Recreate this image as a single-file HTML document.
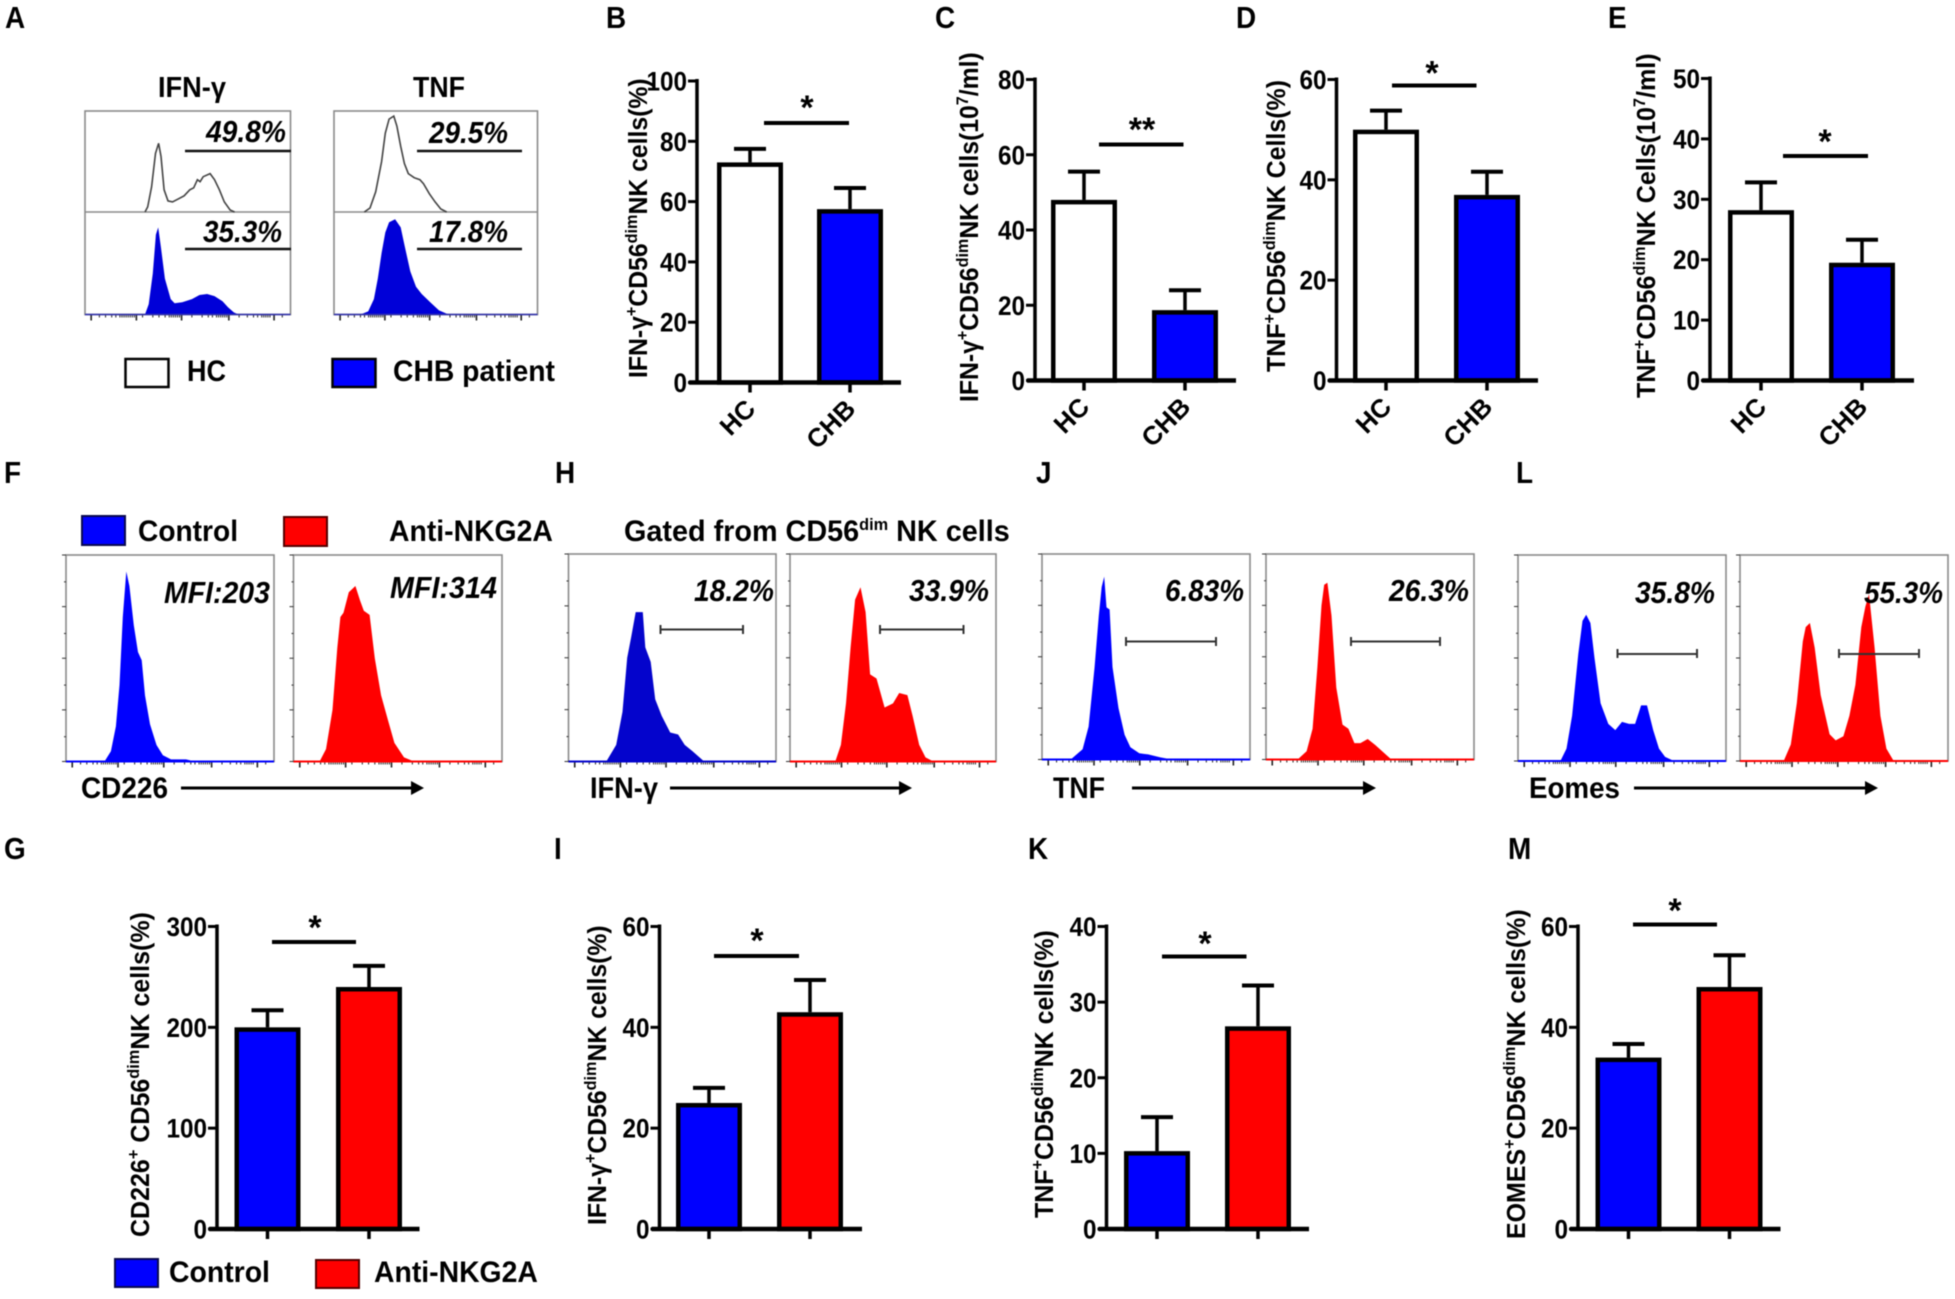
<!DOCTYPE html>
<html lang="en">
<head>
<meta charset="utf-8">
<title>NK cell function figure</title>
<style>
html,body{margin:0;padding:0;background:#fff;}
svg{display:block;filter:blur(0.45px);}
text{font-family:"Liberation Sans",sans-serif;font-weight:bold;fill:#000;}
.letter{font-size:31px;}
.head{font-size:29px;}
.pct{font-size:31px;font-style:italic;}
.leg{font-size:30px;}
.yt{font-size:26px;}
.s{font-size:17px;}
.box{fill:#fff;stroke:#8a8a8a;stroke-width:1.6;}
.gate{stroke:#111;stroke-width:2.6;fill:none;}
.br{stroke:#333;stroke-width:2;fill:none;}
.arrow{stroke:#000;stroke-width:3;fill:none;}
</style>
</head>
<body>
<svg id="figure" xmlns="http://www.w3.org/2000/svg" width="1955" height="1299" viewBox="0 0 1955 1299">
<rect width="1955" height="1299" fill="#fff"/>

<g id="letters">
<text class="letter" transform="translate(5,28) scale(.9,1)">A</text>
<text class="letter" transform="translate(606,28) scale(.9,1)">B</text>
<text class="letter" transform="translate(935,28) scale(.9,1)">C</text>
<text class="letter" transform="translate(1236,28) scale(.9,1)">D</text>
<text class="letter" transform="translate(1608,28) scale(.9,1)">E</text>
<text class="letter" transform="translate(4,483) scale(.9,1)">F</text>
<text class="letter" transform="translate(555,483) scale(.9,1)">H</text>
<text class="letter" transform="translate(1036,483) scale(.9,1)">J</text>
<text class="letter" transform="translate(1516,483) scale(.9,1)">L</text>
<text class="letter" transform="translate(4,859) scale(.9,1)">G</text>
<text class="letter" transform="translate(554,859) scale(.9,1)">I</text>
<text class="letter" transform="translate(1028,859) scale(.9,1)">K</text>
<text class="letter" transform="translate(1508,859) scale(.9,1)">M</text>
</g>

<g id="hist-layer"></g>

<g id="panel-a-text">
<text class="head" transform="translate(158,97)" data-len="68">IFN-γ</text>
<text class="head" transform="translate(413,97)" data-len="52">TNF</text>
<text class="pct" transform="translate(206,142)" data-len="80">49.8%</text>
<text class="pct" transform="translate(203,242)" data-len="79">35.3%</text>
<text class="pct" transform="translate(429,143)" data-len="79">29.5%</text>
<text class="pct" transform="translate(429,242)" data-len="79">17.8%</text>
<path class="gate" d="M185 151H291M185 249H291M417 151H522M417 249H522"/>
<rect x="125.5" y="359" width="43" height="28" fill="#fff" stroke="#000" stroke-width="2.5"/>
<text class="leg" transform="translate(187,381)" data-len="39">HC</text>
<rect x="332.5" y="359" width="43" height="28" fill="#0000ff" stroke="#000" stroke-width="2.5"/>
<text class="leg" transform="translate(393,381)" data-len="162">CHB patient</text>
</g>

<g id="middle-text">
<rect x="82" y="516" width="43" height="29" fill="#0000ff" stroke="#0a0a50" stroke-width="2"/>
<text class="leg" transform="translate(138,541)" data-len="100">Control</text>
<rect x="284" y="517" width="43" height="29" fill="#ff0000" stroke="#500" stroke-width="2"/>
<text class="leg" transform="translate(389,541)" data-len="164">Anti-NKG2A</text>
<text class="leg" transform="translate(624,541)" data-len="386">Gated from CD56<tspan class="s" dy="-11">dim</tspan><tspan dy="11"> NK cells</tspan></text>

<text class="pct" transform="translate(164,603)" data-len="106">MFI:203</text>
<text class="pct" transform="translate(390,598)" data-len="107">MFI:314</text>
<text class="pct" transform="translate(694,601)" data-len="80">18.2%</text>
<text class="pct" transform="translate(909,601)" data-len="80">33.9%</text>
<text class="pct" transform="translate(1165,601)" data-len="79">6.83%</text>
<text class="pct" transform="translate(1389,601)" data-len="80">26.3%</text>
<text class="pct" transform="translate(1635,603)" data-len="80">35.8%</text>
<text class="pct" transform="translate(1864,603)" data-len="79">55.3%</text>

<path class="br" d="M660.5 625V634M660.5 629.5H743M743 625V634"/>
<path class="br" d="M880 625V634M880 629.5H963.5M963.5 625V634"/>
<path class="br" d="M1126 637V646M1126 641.5H1216M1216 637V646"/>
<path class="br" d="M1351 637V646M1351 641.5H1440M1440 637V646"/>
<path class="br" d="M1617.5 649V658M1617.5 654H1697M1697 649V658"/>
<path class="br" d="M1839 649V658M1839 654H1919M1919 649V658"/>

<text class="leg" transform="translate(81,798)" data-len="87">CD226</text>
<path class="arrow" d="M181 788H414"/><path d="M411 781L424 788L411 795Z"/>
<text class="leg" transform="translate(590,798)" data-len="68">IFN-γ</text>
<path class="arrow" d="M670 788H902"/><path d="M899 781L912 788L899 795Z"/>
<text class="leg" transform="translate(1053,798)" data-len="52">TNF</text>
<path class="arrow" d="M1132 788H1366"/><path d="M1363 781L1376 788L1363 795Z"/>
<text class="leg" transform="translate(1529,798)" data-len="91">Eomes</text>
<path class="arrow" d="M1634 788H1868"/><path d="M1865 781L1878 788L1865 795Z"/>
</g>

<g id="y-titles">
<text class="yt" transform="translate(647,378) rotate(-90)" data-len="300">IFN-γ<tspan class="s" dy="-10">+</tspan><tspan dy="10">CD56</tspan><tspan class="s" dy="-10">dim</tspan><tspan dy="10">NK cells(%)</tspan></text>
<text class="yt" transform="translate(978,402) rotate(-90)" data-len="350">IFN-γ<tspan class="s" dy="-10">+</tspan><tspan dy="10">CD56</tspan><tspan class="s" dy="-10">dim</tspan><tspan dy="10">NK cells(10</tspan><tspan class="s" dy="-10">7</tspan><tspan dy="10">/ml)</tspan></text>
<text class="yt" transform="translate(1285,372) rotate(-90)" data-len="292">TNF<tspan class="s" dy="-10">+</tspan><tspan dy="10">CD56</tspan><tspan class="s" dy="-10">dim</tspan><tspan dy="10">NK Cells(%)</tspan></text>
<text class="yt" transform="translate(1655,398) rotate(-90)" data-len="345">TNF<tspan class="s" dy="-10">+</tspan><tspan dy="10">CD56</tspan><tspan class="s" dy="-10">dim</tspan><tspan dy="10">NK Cells(10</tspan><tspan class="s" dy="-10">7</tspan><tspan dy="10">/ml)</tspan></text>
<text class="yt" transform="translate(149,1237) rotate(-90)" data-len="325">CD226<tspan class="s" dy="-10">+</tspan><tspan dy="10"> CD56</tspan><tspan class="s" dy="-10">dim</tspan><tspan dy="10">NK cells(%)</tspan></text>
<text class="yt" transform="translate(606,1225) rotate(-90)" data-len="300">IFN-γ<tspan class="s" dy="-10">+</tspan><tspan dy="10">CD56</tspan><tspan class="s" dy="-10">dim</tspan><tspan dy="10">NK cells(%)</tspan></text>
<text class="yt" transform="translate(1053,1218) rotate(-90)" data-len="288">TNF<tspan class="s" dy="-10">+</tspan><tspan dy="10">CD56</tspan><tspan class="s" dy="-10">dim</tspan><tspan dy="10">NK cells(%)</tspan></text>
<text class="yt" transform="translate(1525,1239) rotate(-90)" data-len="330">EOMES<tspan class="s" dy="-10">+</tspan><tspan dy="10">CD56</tspan><tspan class="s" dy="-10">dim</tspan><tspan dy="10">NK cells(%)</tspan></text>
</g>

<g id="bar-layer"></g>

<g id="bottom-legend">
<rect x="115" y="1259" width="43" height="28" fill="#0000ff" stroke="#0a0a50" stroke-width="2"/>
<text class="leg" transform="translate(169,1282)" data-len="101">Control</text>
<rect x="316" y="1260" width="43" height="28" fill="#ff0000" stroke="#500" stroke-width="2"/>
<text class="leg" transform="translate(374,1282)" data-len="164">Anti-NKG2A</text>
</g>
</svg>

<script>
// ---------- Bar chart data ----------
const groupsCHB = ['HC', 'CHB'];
const groupsTreatment = ['', ''];

const chartB_values = [73, 57.5];
const chartB_upper = [77.5, 64.5];
const chartB_ticks = [0, 20, 40, 60, 80, 100];

const chartC_values = [48, 18.7];
const chartC_upper = [55.5, 24];
const chartC_ticks = [0, 20, 40, 60, 80];

const chartD_values = [50, 37];
const chartD_upper = [53.8, 41.6];
const chartD_ticks = [0, 20, 40, 60];

const chartE_values = [28.2, 19.5];
const chartE_upper = [32.8, 23.3];
const chartE_ticks = [0, 10, 20, 30, 40, 50];

const chartG_values = [200, 240];
const chartG_upper = [217, 261];
const chartG_ticks = [0, 100, 200, 300];

const chartI_values = [25, 43];
const chartI_upper = [28, 49.4];
const chartI_ticks = [0, 20, 40, 60];

const chartK_values = [10.3, 26.8];
const chartK_upper = [14.8, 32.2];
const chartK_ticks = [0, 10, 20, 30, 40];

const chartM_values = [34, 48];
const chartM_upper = [36.7, 54.3];
const chartM_ticks = [0, 20, 40, 60];

// ---------- Histogram data: channel (% of log axis) and count (% of panel height) ----------
const aIfnHcChannel = [29.2,30.5,32.4,34.3,35.8,37,38.5,40.4,42.6,45.4,48.2,51,52.9,54.7,56,57.5,60.9,63,65.4,67.8,70.6,72.8];
const aIfnHcCount = [0,5,25,58,68,55,22,11,10,13,16,22,24,32,30,35,38,32,22,10,2,0];
const aIfnChbChannel = [29.2,31,33,34.5,35.6,37,38.9,41.7,43.6,47.3,52,55.7,59.4,63,66.9,69.6,72.4,74.7];
const aIfnChbCount = [0,10,40,78,85,65,35,15,11,12,15,19,20,18,13,7,2,0];
const aTnfHcChannel = [14.9,17.7,20.5,23.4,25.2,27.1,29.4,30.9,32.8,34.6,36.5,39.4,42.2,44,46.9,49.7,52.5,55.4];
const aTnfHcCount = [0,4,20,50,78,92,95,85,65,48,38,34,32,28,18,10,3,0];
const aTnfChbChannel = [13,16.8,19.6,21.5,23.4,25.2,27.1,30,32.8,34.6,37.5,40.3,43.1,47.8,51.6,56.3];
const aTnfChbCount = [0,3,15,35,60,80,90,93,85,68,42,27,20,11,4,0];

const fCtrlChannel = [18.5,21.6,24,25.7,27.3,29,30.5,32.6,34.6,36.4,38,40.4,43.5,46.6,50.5,57.7,62];
const fCtrlCount = [0,5,17,37,70,92,85,66,53,49,32,18,8,3,1,1,0];
const fAntiChannel = [12.5,15.6,18.7,21,22.5,24,26.5,29.7,31.9,33.7,36.5,39,42,45.3,48.4,53,57.8];
const fAntiCount = [0,6,25,55,70,72,82,85,78,73,71,50,32,20,9,2,0];
const hCtrlChannel = [18.2,23,26,28.3,30.2,32.4,34,35.8,37,39.6,41.8,44.9,49,52.8,56,59.7,65.4];
const hCtrlCount = [0,8,24,50,60,72,72,72,55,48,30,22,14,13,8,5,0];
const hAntiChannel = [22,24.7,27.2,29.4,31.6,34.2,36.7,38.9,42,45.9,50,53,57,59.5,62.7,65.8,69.6];
const hAntiCount = [0,8,28,55,78,84,72,42,40,26,28,33,32,22,8,2,0];
const jCtrlChannel = [13.8,19.5,22.4,25.3,27.3,28.7,29.9,31,32.5,33.9,36.8,39.7,42.5,46.8,51,56.9,62.6];
const jCtrlCount = [0,5,16,45,70,84,89,74,73,45,25,12,6,3,2.5,1,0];
const jAntiChannel = [15.2,19.5,22.4,24.7,26.7,28,29.5,31.5,33.8,36.8,39.6,42.5,45.4,48.9,52.6,56.9,60.3];
const jAntiCount = [0,4,15,45,75,85,86,70,35,17,15,8,8,10,7,3,0];
const lCtrlChannel = [20.4,23.3,26,29,31,32.8,34.8,36.8,39.7,43.4,46.8,50,53.4,56.3,59.2,62,65,67.8,70.7,75];
const lCtrlCount = [0,6,22,52,68,71,67,50,28,18,15,19,18,18,27,27,15,6,2,0];
const lAntiChannel = [21,24.4,27.3,30.2,31.6,33.6,35.9,38.8,43.1,46,49.7,52.6,55.5,58.3,60.3,62,64.7,67.5,70.4,73.9];
const lAntiCount = [0,8,28,58,65,67,55,32,13,10,12,22,37,65,75,81,55,22,6,0];

const logTickChannels = [3,7,10,13,15,17,18,19,20,21,22,23,24,25,28,33,36,39,41,42,43,44,45,46,47,52,57,60,62,64,65,66,67,68,69,70,75,79,82,84,86,87,88,89,90,92,96];
const logTickMajors = [3,25,47,70,92];
const countTicks = [0,12,25,37,50,62,75,87,100];
const countTickMajors = [0,25,50,75,100];

// ---------- Helpers ----------
const NS = 'http://www.w3.org/2000/svg';
const barLayer = document.getElementById('bar-layer');
const histLayer = document.getElementById('hist-layer');

function make(parent, tag, attrs, name, text) {
  const node = document.createElementNS(NS, tag);
  for (const k in attrs) node.setAttribute(k, attrs[k]);
  
  
  if (text !== undefined) node.textContent = text;
  parent.appendChild(node);
  return node;
}

function drawBars(o) {
  const g = make(barLayer, 'g', {}, o.id);
  const yMax = o.ticks[o.ticks.length - 1];
  const yScale = function (v) { return o.yBase - (v / yMax) * (o.yBase - o.yTop); };
  const xBand = function (i) { return o.first + i * o.step; };
  const bw = o.barWidth || 66, sw = 4.5;
  o.values.forEach(function (v, i) {
    const c = xBand(i);
    const top = yScale(v), eTop = yScale(o.upper[i]);
    make(g, 'line', {x1: c, x2: c, y1: top, y2: eTop, stroke: '#000', 'stroke-width': 3.5}, o.id + '-error-stem-' + i);
    make(g, 'line', {x1: c - 16, x2: c + 16, y1: eTop, y2: eTop, stroke: '#000', 'stroke-width': 4}, o.id + '-error-cap-' + i);
    make(g, 'rect', {x: c - bw / 2 + sw / 2, y: top + sw / 2, width: bw - sw, height: o.yBase - top - sw / 2, fill: o.colors[i], stroke: '#000', 'stroke-width': sw}, o.id + '-bar-' + i);
    make(g, 'line', {x1: c, x2: c, y1: o.yBase, y2: o.yBase + 10, stroke: '#000', 'stroke-width': 3.5}, o.id + '-x-tick-' + i);
    if (o.cats[i]) {
      make(g, 'text', {'text-anchor': 'end', 'font-size': 26, transform: 'translate(' + (c + 7) + ',' + (o.yBase + 28) + ') rotate(-45)'}, o.id + '-x-label-' + i, o.cats[i]);
    }
  });
  make(g, 'line', {x1: o.axisX, x2: o.axisX, y1: o.yTop - 2, y2: o.yBase, stroke: '#000', 'stroke-width': 3.5}, o.id + '-y-axis');
  make(g, 'line', {x1: o.axisX - 8, x2: o.right, y1: o.yBase, y2: o.yBase, stroke: '#000', 'stroke-width': 4.5}, o.id + '-x-axis');
  o.ticks.forEach(function (t) {
    const y = yScale(t);
    make(g, 'line', {x1: o.axisX - 9, x2: o.axisX, y1: y, y2: y, stroke: '#000', 'stroke-width': 3}, o.id + '-y-tick-' + t);
    make(g, 'text', {'text-anchor': 'end', 'font-size': 27, transform: 'translate(' + (o.axisX - 10) + ',' + (y + 9.5) + ') scale(.9,1)'}, o.id + '-y-label-' + t, String(t));
  });
  make(g, 'line', {x1: o.sigA, x2: o.sigB, y1: o.sigY, y2: o.sigY, stroke: '#000', 'stroke-width': 4}, o.id + '-significance-bar');
  make(g, 'text', {'text-anchor': 'middle', x: o.starX, y: o.starY + 19, 'font-size': 34}, o.id + '-significance-star', o.star);
}

const whiteBlue = ['#fff', '#0000ff'];
const blueRed = ['#0000ff', '#ff0000'];

drawBars({id:'chart-b', cats:groupsCHB, values:chartB_values, upper:chartB_upper, ticks:chartB_ticks, colors:whiteBlue, axisX:697, right:901, yTop:81, yBase:382.5, first:750, step:100, sigA:764, sigB:849, sigY:123, starX:807, starY:100, star:'*'});
drawBars({id:'chart-c', cats:groupsCHB, values:chartC_values, upper:chartC_upper, ticks:chartC_ticks, colors:whiteBlue, axisX:1035, right:1236, yTop:79.5, yBase:380.5, first:1084, step:101, sigA:1099, sigB:1183.5, sigY:144.5, starX:1142, starY:122, star:'**'});
drawBars({id:'chart-d', cats:groupsCHB, values:chartD_values, upper:chartD_upper, ticks:chartD_ticks, colors:whiteBlue, axisX:1336.5, right:1538, yTop:79.5, yBase:380.5, first:1386, step:101, sigA:1392, sigB:1476.5, sigY:85.5, starX:1432, starY:65.5, star:'*'});
drawBars({id:'chart-e', cats:groupsCHB, values:chartE_values, upper:chartE_upper, ticks:chartE_ticks, colors:whiteBlue, axisX:1710, right:1914, yTop:78.5, yBase:380.5, first:1761, step:101, sigA:1783, sigB:1868, sigY:156, starX:1825, starY:134, star:'*'});
drawBars({id:'chart-g', cats:groupsTreatment, values:chartG_values, upper:chartG_upper, ticks:chartG_ticks, colors:blueRed, axisX:217, right:419.5, yTop:926.5, yBase:1229, first:267.5, step:101.5, sigA:272, sigB:356, sigY:942, starX:315, starY:920, star:'*'});
drawBars({id:'chart-i', cats:groupsTreatment, values:chartI_values, upper:chartI_upper, ticks:chartI_ticks, colors:blueRed, axisX:659.5, right:862, yTop:926.5, yBase:1229, first:709, step:101, sigA:714, sigB:799, sigY:956, starX:757, starY:933, star:'*'});
drawBars({id:'chart-k', cats:groupsTreatment, values:chartK_values, upper:chartK_upper, ticks:chartK_ticks, colors:blueRed, axisX:1106.5, right:1309, yTop:926.5, yBase:1229, first:1157, step:101, sigA:1162, sigB:1246.5, sigY:956.5, starX:1205, starY:936, star:'*'});
drawBars({id:'chart-m', cats:groupsTreatment, values:chartM_values, upper:chartM_upper, ticks:chartM_ticks, colors:blueRed, axisX:1578, right:1780.5, yTop:926.5, yBase:1229, first:1628.5, step:101, sigA:1633, sigB:1717, sigY:924.5, starX:1675, starY:903, star:'*'});

function curvePath(ch, cnt, xS, yS) {
  let d = '';
  ch.forEach(function (c, i) { d += (i ? 'L' : 'M') + xS(c).toFixed(1) + ' ' + yS(cnt[i]).toFixed(1); });
  return d;
}

function drawFrame(g, id, x0, x1, top, bot, leftTicks) {
  make(g, 'rect', {x: x0, y: top, width: x1 - x0, height: bot - top, class: 'box'}, id + '-frame');
  logTickChannels.forEach(function (c) {
    const x = x0 + (c / 100) * (x1 - x0);
    const major = logTickMajors.indexOf(c) >= 0;
    make(g, 'line', {x1: x, x2: x, y1: bot, y2: bot + (major ? 6 : 3), stroke: '#222', 'stroke-width': major ? 1.6 : 1}, id + '-x-tick');
  });
  if (leftTicks) {
    countTicks.forEach(function (c) {
      const y = bot - (c / 100) * (bot - top);
      const major = countTickMajors.indexOf(c) >= 0;
      make(g, 'line', {x1: x0 - (major ? 4 : 2), x2: x0, y1: y, y2: y, stroke: '#333', 'stroke-width': 1}, id + '-y-tick');
    });
  }
}

function drawHist(o) {
  const g = make(histLayer, 'g', {}, o.id);
  drawFrame(g, o.id, o.x0, o.x1, o.top, o.bot, true);
  const xS = function (c) { return o.x0 + (c / 100) * (o.x1 - o.x0); };
  const yS = function (c) { return o.bot - (c / 100) * (o.bot - o.top); };
  make(g, 'path', {d: curvePath(o.ch, o.cnt, xS, yS) + 'Z', fill: o.color}, o.id + '-curve');
  make(g, 'line', {x1: o.x0, x2: o.x1, y1: o.bot, y2: o.bot, stroke: o.color, 'stroke-width': 2}, o.id + '-baseline');
}

function drawStacked(o) {
  const g = make(histLayer, 'g', {}, o.id);
  drawFrame(g, o.id, o.x0, o.x1, o.top, o.bot, false);
  const xS = function (c) { return o.x0 + (c / 100) * (o.x1 - o.x0); };
  const yHc = function (c) { return o.mid - (c / 100) * (o.mid - o.top); };
  const yChb = function (c) { return o.bot - (c / 100) * (o.bot - o.mid); };
  make(g, 'line', {x1: o.x0, x2: o.x1, y1: o.mid, y2: o.mid, stroke: '#8a8a8a', 'stroke-width': 1.4}, o.id + '-divider');
  make(g, 'path', {d: curvePath(o.hcCh, o.hcCnt, xS, yHc), fill: 'none', stroke: '#444', 'stroke-width': 1.6}, o.id + '-hc-curve');
  make(g, 'path', {d: curvePath(o.chbCh, o.chbCnt, xS, yChb) + 'Z', fill: '#0000d8'}, o.id + '-chb-curve');
  make(g, 'line', {x1: o.x0, x2: o.x1, y1: o.bot, y2: o.bot, stroke: '#3030b0', 'stroke-width': 1.5}, o.id + '-baseline');
}

drawStacked({id:'hist-a-ifn', x0:85, x1:290.5, top:111, mid:212, bot:314.5, hcCh:aIfnHcChannel, hcCnt:aIfnHcCount, chbCh:aIfnChbChannel, chbCnt:aIfnChbCount});
drawStacked({id:'hist-a-tnf', x0:334, x1:537.5, top:111, mid:212, bot:314.5, hcCh:aTnfHcChannel, hcCnt:aTnfHcCount, chbCh:aTnfChbChannel, chbCnt:aTnfChbCount});

drawHist({id:'hist-f-control', x0:66, x1:274, top:555, bot:761.5, ch:fCtrlChannel, cnt:fCtrlCount, color:'#0000ff'});
drawHist({id:'hist-f-anti', x0:293.5, x1:502, top:555, bot:761.5, ch:fAntiChannel, cnt:fAntiCount, color:'#ff0000'});
drawHist({id:'hist-h-control', x0:568.5, x1:776, top:554, bot:761.5, ch:hCtrlChannel, cnt:hCtrlCount, color:'#0404cc'});
drawHist({id:'hist-h-anti', x0:790, x1:996, top:554, bot:761.5, ch:hAntiChannel, cnt:hAntiCount, color:'#ff0000'});
drawHist({id:'hist-j-control', x0:1042, x1:1250, top:554, bot:759.5, ch:jCtrlChannel, cnt:jCtrlCount, color:'#0000ff'});
drawHist({id:'hist-j-anti', x0:1266, x1:1474, top:554, bot:759.5, ch:jAntiChannel, cnt:jAntiCount, color:'#ff0000'});
drawHist({id:'hist-l-control', x0:1518, x1:1726, top:555, bot:761, ch:lCtrlChannel, cnt:lCtrlCount, color:'#0000ff'});
drawHist({id:'hist-l-anti', x0:1740, x1:1948, top:555, bot:761, ch:lAntiChannel, cnt:lAntiCount, color:'#ff0000'});

// Fit measured text widths by horizontal scaling along the text direction
document.querySelectorAll('text[data-len]').forEach(function (t) {
  const natural = t.getComputedTextLength();
  const k = parseFloat(t.getAttribute('data-len')) / natural;
  t.setAttribute('transform', t.getAttribute('transform') + ' scale(' + k.toFixed(3) + ',1)');
});
</script>
</body>
</html>
